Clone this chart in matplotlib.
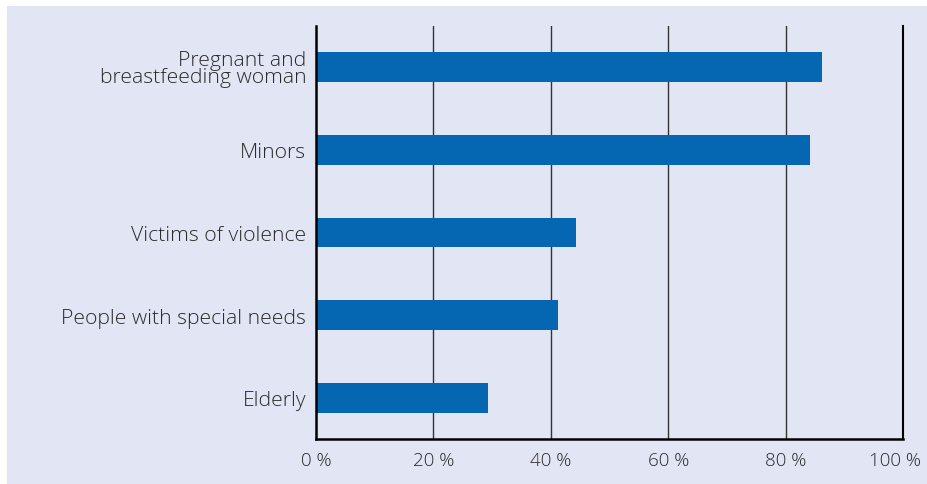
import matplotlib.pyplot as plt
import matplotlib.transforms as mtransforms
from matplotlib.patches import Rectangle

# Share of respondents per vulnerable group (%)
groups = ['Pregnant and\nbreastfeeding woman', 'Minors', 'Victims of violence',
          'People with special needs', 'Elderly']
shares = [86.2, 84.2, 44.3, 41.2, 29.3]
xticks = [0, 20, 40, 60, 80, 100]
xtick_labels = ['0 %', '20 %', '40 %', '60 %', '80 %', '100 %']

bg = '#E1E5F4'
bar_color = '#0566B2'
text_color = '#2a2a2a'

plt.rcParams['font.family'] = ['Open Sans', 'DejaVu Sans']

W, H = 927, 485
fig = plt.figure(figsize=(W / 100, H / 100), dpi=100, facecolor='white')

# lavender panel behind the chart, leaving a thin white margin top/left
fig.patches.append(Rectangle((7 / W, 0), 1 - 7 / W, 1 - 7 / H,
                             transform=fig.transFigure, facecolor=bg,
                             edgecolor='none', zorder=-10))

ax = fig.add_axes([316 / W, (H - 440) / H, (903 - 316) / W, (440 - 27) / H])
ax.set_facecolor(bg)

ypos = list(range(len(groups)))[::-1]
ax.barh(ypos, shares, height=0.36, color=bar_color, zorder=3)

ax.set_xlim(0, 100)
ax.set_ylim(-0.5, len(groups) - 0.5)
ax.set_xticks(xticks)
ax.set_xticklabels(xtick_labels, fontsize=13.5, color=text_color, fontweight='light')
ax.set_yticks(ypos)
ax.set_yticklabels(groups, fontsize=15.2, color=text_color, fontweight='light',
                   linespacing=0.82)
ax.tick_params(axis='both', length=0)
ax.tick_params(axis='y', pad=7)
ax.tick_params(axis='x', pad=9)

# nudge the last tick label left so it stays inside the figure
last = ax.get_xticklabels()[-1]
last.set_transform(last.get_transform() +
                   mtransforms.ScaledTranslation(-8 / 100, 0, fig.dpi_scale_trans))

for x in xticks[1:-1]:
    ax.axvline(x, color='#333333', lw=1.0, zorder=2)

ax.spines['top'].set_visible(False)
ax.spines['right'].set_color('black')
ax.spines['right'].set_linewidth(1.5)
ax.spines['left'].set_linewidth(1.8)
ax.spines['bottom'].set_linewidth(1.8)
ax.spines['left'].set_zorder(4)

fig.savefig('out.png', dpi=100, facecolor='white')
